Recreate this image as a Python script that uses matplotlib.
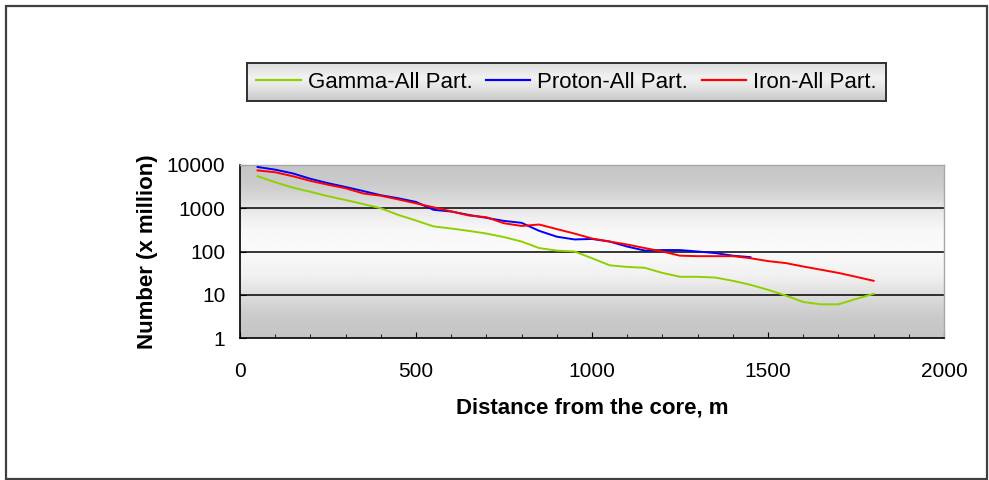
import numpy as np
import matplotlib.pyplot as plt
from matplotlib.patches import Rectangle
from matplotlib.ticker import FixedLocator, MultipleLocator, LogLocator, NullFormatter

plt.rcParams['font.family'] = ['Liberation Sans', 'DejaVu Sans']

# distance from the core (m) and particle numbers (x million)
dist = [50, 100, 150, 200, 250, 300, 350, 400, 450, 500, 550, 600, 650, 700,
        750, 800, 850, 900, 950, 1000, 1050, 1100, 1150, 1200, 1250, 1300,
        1350, 1400, 1450, 1500, 1550, 1600, 1650, 1700, 1750, 1800]
gamma = [5500, 4000, 3000, 2400, 1900, 1550, 1250, 1000, 700, 520, 380, 340,
         300, 260, 215, 170, 120, 105, 100, 70, 48, 44, 42, 32, 26, 26, 25,
         21, 17, 13, 9.6, 6.8, 6, 6, 8, 10.5]
iron = [7500, 6800, 5500, 4300, 3500, 2900, 2200, 1950, 1600, 1300, 1050, 850,
        680, 620, 450, 390, 420, 330, 260, 200, 170, 145, 120, 100, 80, 78,
        78, 78, 70, 60, 54, 45, 38, 32, 26, 21]
proton_dist = dist[:29]
proton = [9000, 7800, 6400, 4800, 3800, 3100, 2500, 2000, 1700, 1400, 920, 840,
          700, 600, 510, 460, 300, 220, 190, 195, 170, 130, 105, 108, 108, 100,
          92, 80, 74]

labels = ['Gamma-All Part.', 'Proton-All Part.', 'Iron-All Part.']
colors = ['#8fd000', '#0000ff', '#ff0000']

W, H = 989, 480
fig = plt.figure(figsize=(W / 100, H / 100), dpi=100)
fig.patch.set_facecolor('white')

def fbox(x0, y0, x1, y1):
    # pixel box (top-left origin) -> figure fraction rect
    return [x0 / W, 1 - y1 / H, (x1 - x0) / W, (y1 - y0) / H]

# outer frame
fig.patches.append(Rectangle((6 / W, 1 - 479 / H), 981 / W, 473 / H,
                             transform=fig.transFigure, fill=False,
                             edgecolor='#404040', linewidth=1.6))

# plot area with grey-white-grey shading
ax = fig.add_axes(fbox(240, 165, 944, 338))
prof_y = np.linspace(0, 1, 200)
shade = np.interp(prof_y, [0, 0.12, 0.22, 0.35, 0.5, 0.62, 0.72, 0.8, 0.88, 1.0],
                  [0.77, 0.79, 0.85, 0.94, 0.98, 0.97, 0.92, 0.85, 0.8, 0.77])
ax.imshow(shade[::-1, None], extent=[0, 1, 0, 1], transform=ax.transAxes,
          aspect='auto', cmap='gray', vmin=0, vmax=1, zorder=0,
          interpolation='bilinear')

ax.plot(dist, gamma, color=colors[0], lw=1.4, zorder=3, label=labels[0])
ax.plot(proton_dist, proton, color=colors[1], lw=1.4, zorder=3, label=labels[1])
ax.plot(dist, iron, color=colors[2], lw=1.4, zorder=4, label=labels[2])

ax.set_yscale('log')
ax.set_ylim(1, 10000)
ax.set_xlim(0, 2000)
ax.yaxis.set_major_locator(FixedLocator([1, 10, 100, 1000, 10000]))
ax.yaxis.set_major_formatter(plt.FuncFormatter(lambda v, p: '%d' % v))
ax.yaxis.set_minor_locator(LogLocator(base=10, subs=np.arange(2, 10)))
ax.yaxis.set_minor_formatter(NullFormatter())
ax.xaxis.set_major_locator(MultipleLocator(500))
ax.xaxis.set_minor_locator(MultipleLocator(100))

for v in [10, 100, 1000]:
    ax.axhline(v, color='black', lw=1.1, zorder=2)

ax.tick_params(axis='both', which='both', direction='in', color='black')
ax.tick_params(axis='y', which='major', length=4, pad=10.5, labelsize=15)
ax.tick_params(axis='y', which='minor', length=2.5)
ax.tick_params(axis='x', which='major', length=4, pad=17, labelsize=15)
ax.tick_params(axis='x', which='minor', length=3)

for s in ['left', 'bottom']:
    ax.spines[s].set_color('black')
    ax.spines[s].set_linewidth(1.2)
for s in ['top', 'right']:
    ax.spines[s].set_color('#a8a8a8')
    ax.spines[s].set_linewidth(1.0)

ax.set_xlabel('Distance from the core, m', fontsize=16, fontweight='bold',
              labelpad=12)
ax.set_ylabel('Number (x million)', fontsize=16, fontweight='bold',
              labelpad=6)

# legend box with its own shading
lax = fig.add_axes(fbox(247, 63, 886, 101))
lshade = np.interp(np.linspace(0, 1, 100), [0, 0.3, 0.6, 1.0],
                   [0.78, 0.88, 0.95, 0.86])
lax.imshow(lshade[::-1, None], extent=[0, 1, 0, 1], aspect='auto', cmap='gray',
           vmin=0, vmax=1, interpolation='bilinear')
lax.set_xticks([])
lax.set_yticks([])
for s in lax.spines.values():
    s.set_color('#303030')
    s.set_linewidth(1.4)

handles, lbls = ax.get_legend_handles_labels()
leg = lax.legend(handles, lbls, loc='center', ncol=3, frameon=False,
                 fontsize=16, handlelength=2.0, handletextpad=0.32,
                 columnspacing=0.6, borderaxespad=0, borderpad=0)
for ln in leg.get_lines():
    ln.set_linewidth(1.6)

fig.savefig('out.png', dpi=100)
